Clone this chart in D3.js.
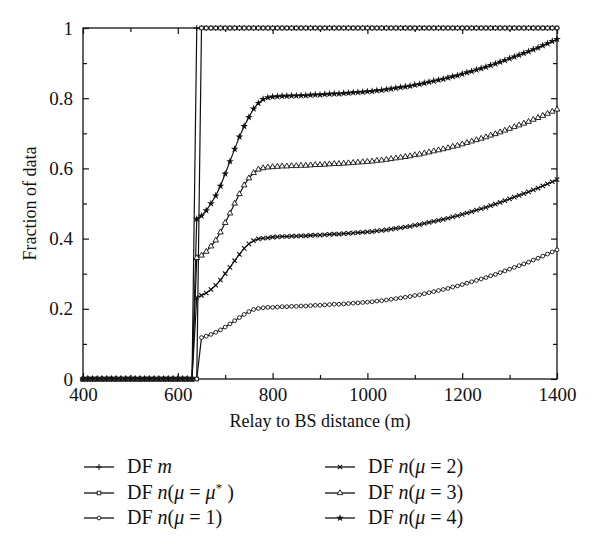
<!DOCTYPE html>
<html><head><meta charset="utf-8">
<script src="https://cdn.jsdelivr.net/npm/d3@7/dist/d3.min.js"></script>
</head><body style="margin:0"><svg id="c" width="600" height="549" font-family="Times New Roman"></svg>
<script>
const distances = [400,410,420,430,440,450,460,470,480,490,500,510,520,530,540,550,560,570,580,590,600,610,620,630,640,650,660,670,680,690,700,710,720,730,740,750,760,770,780,790,800,810,820,830,840,850,860,870,880,890,900,910,920,930,940,950,960,970,980,990,1000,1010,1020,1030,1040,1050,1060,1070,1080,1090,1100,1110,1120,1130,1140,1150,1160,1170,1180,1190,1200,1210,1220,1230,1240,1250,1260,1270,1280,1290,1300,1310,1320,1330,1340,1350,1360,1370,1380,1390,1400];
const zeros24 = [0,0,0,0,0,0,0,0,0,0,0,0,0,0,0,0,0,0,0,0,0,0,0,0];
const dfM = zeros24.concat([1,1,1,1,1,1,1,1,1,1,1,1,1,1,1,1,1,1,1,1,1,1,1,1,1,1,1,1,1,1,1,1,1,1,1,1,1,1,1,1,1,1,1,1,1,1,1,1,1,1,1,1,1,1,1,1,1,1,1,1,1,1,1,1,1,1,1,1,1,1,1,1,1,1,1,1,1]);
const dfMuStar = zeros24.concat([0,1,1,1,1,1,1,1,1,1,1,1,1,1,1,1,1,1,1,1,1,1,1,1,1,1,1,1,1,1,1,1,1,1,1,1,1,1,1,1,1,1,1,1,1,1,1,1,1,1,1,1,1,1,1,1,1,1,1,1,1,1,1,1,1,1,1,1,1,1,1,1,1,1,1,1,1]);
const dfMu1 = zeros24.concat([0,
 .118,.122,.127,.133,.140,.148,.157,.166,.175,.184,.192,.198,.201,.203,.204,
 .204,.205,.206,.206,.207,.207,.208,.208,.209,.210,
 .210,.211,.212,.213,.213,.214,.215,.216,.217,.218,
 .219,.220,.222,.223,.225,.227,.229,.231,.233,.235,
 .238,.240,.243,.246,.249,.252,.255,.258,.262,.265,
 .269,.273,.277,.281,.285,.289,.294,.298,.303,.308,
 .313,.318,.323,.328,.333,.339,.344,.350,.356,.362,
 .368]);
const dfMu2 = zeros24.concat([
 .232,.238,.245,.255,.267,.282,.300,.318,.337,.355,.372,.385,.394,.399,.401,.402,
 .404,.405,.406,.406,.407,.407,.408,.408,.409,.410,
 .410,.411,.412,.413,.413,.414,.415,.416,.417,.418,
 .419,.420,.422,.423,.425,.427,.429,.431,.433,.435,
 .438,.440,.443,.446,.449,.452,.455,.458,.462,.465,
 .469,.473,.477,.481,.485,.489,.494,.498,.503,.508,
 .513,.518,.523,.528,.533,.539,.544,.550,.556,.562,
 .568]);
const dfMu3 = zeros24.concat([
 .345,.352,.363,.378,.395,.418,.445,.472,.500,.527,.552,.572,.587,.597,.601,.603,
 .604,.605,.606,.606,.607,.607,.608,.608,.609,.610,
 .610,.611,.612,.613,.613,.614,.615,.616,.617,.618,
 .619,.620,.622,.623,.625,.627,.629,.631,.633,.635,
 .638,.640,.643,.646,.649,.652,.655,.658,.662,.665,
 .669,.673,.677,.681,.685,.689,.694,.698,.703,.708,
 .713,.718,.723,.728,.733,.739,.744,.750,.756,.762,
 .768]);
const dfMu4 = zeros24.concat([
 .456,.465,.480,.500,.522,.550,.585,.620,.655,.690,.720,.746,.770,.786,.797,.802,
 .804,.805,.806,.806,.807,.807,.808,.808,.809,.810,
 .810,.811,.812,.813,.813,.814,.815,.816,.817,.818,
 .819,.820,.822,.823,.825,.827,.829,.831,.833,.835,
 .838,.840,.843,.846,.849,.852,.855,.858,.862,.865,
 .869,.873,.877,.881,.885,.889,.894,.898,.903,.908,
 .913,.918,.923,.928,.933,.939,.944,.950,.956,.962,
 .968]);
const xTicks = [400,600,800,1000,1200,1400];
const yTicks = [0,0.2,0.4,0.6,0.8,1];
const xMinor = [500,700,900,1100,1300];
const yMinor = [0.1,0.3,0.5,0.7,0.9];
const series = [
  {key:"m", values:dfM, marker:"plus"},
  {key:"star", values:dfMuStar, marker:"square"},
  {key:"1", values:dfMu1, marker:"circle"},
  {key:"2", values:dfMu2, marker:"x"},
  {key:"3", values:dfMu3, marker:"triangle"},
  {key:"4", values:dfMu4, marker:"star"}
];

const FONT = "Times New Roman";
const svg = d3.select("#c");
const L=83, R=557, T=28, B=379;
const x = d3.scaleLinear().domain([400,1400]).range([L,R]);
const y = d3.scaleLinear().domain([0,1]).range([B,T]);
const ink = "#111";

function drawMarker(g, type, cx, cy){
  if(type==="plus"){
    g.append("path").attr("d",`M${cx-3},${cy}H${cx+3}M${cx},${cy-3}V${cy+3}`).attr("stroke",ink).attr("stroke-width",1).attr("fill","none");
  } else if(type==="x"){
    g.append("path").attr("d",`M${cx-2.2},${cy-2.2}L${cx+2.2},${cy+2.2}M${cx-2.2},${cy+2.2}L${cx+2.2},${cy-2.2}`).attr("stroke",ink).attr("stroke-width",1.1).attr("fill","none");
  } else if(type==="square"){
    g.append("rect").attr("x",cx-1.8).attr("y",cy-1.8).attr("width",3.6).attr("height",3.6).attr("stroke",ink).attr("stroke-width",0.9).attr("fill","#fff");
  } else if(type==="circle"){
    g.append("circle").attr("cx",cx).attr("cy",cy).attr("r",1.9).attr("stroke",ink).attr("stroke-width",0.9).attr("fill","#fff");
  } else if(type==="triangle"){
    g.append("path").attr("d",d3.symbol(d3.symbolTriangle,14)()).attr("transform",`translate(${cx},${cy})`).attr("stroke",ink).attr("stroke-width",0.9).attr("fill","#fff");
  } else if(type==="star"){
    g.append("path").attr("d",d3.symbol(d3.symbolStar,18)()).attr("transform",`translate(${cx},${cy})`).attr("fill",ink);
  }
}

// frame
svg.append("rect").attr("x",L).attr("y",T).attr("width",R-L).attr("height",B-T).attr("fill","none").attr("stroke",ink).attr("stroke-width",1.3);

// axes with inward ticks
function styleAxis(g){
  g.attr("font-family",null);
  g.select(".domain").remove();
  g.selectAll("line").attr("stroke",ink).attr("stroke-width",1.2);
  g.selectAll("text").attr("fill",ink).attr("font-family",FONT).attr("style",`font-family:'${FONT}'`).attr("font-size",19);
}
const gx = svg.append("g").attr("transform",`translate(0,${B})`).call(d3.axisBottom(x).tickValues(xTicks).tickSize(-6).tickPadding(9).tickFormat(d3.format("d")));
const gxm = svg.append("g").attr("transform",`translate(0,${B})`).call(d3.axisBottom(x).tickValues(xMinor).tickSize(-4).tickFormat(""));
const gxt = svg.append("g").attr("transform",`translate(0,${T})`).call(d3.axisTop(x).tickValues(xTicks).tickSize(-6).tickFormat(""));
const gxtm = svg.append("g").attr("transform",`translate(0,${T})`).call(d3.axisTop(x).tickValues(xMinor).tickSize(-4).tickFormat(""));
const gy = svg.append("g").attr("transform",`translate(${L},0)`).call(d3.axisLeft(y).tickValues(yTicks).tickSize(-6).tickPadding(10).tickFormat(d=>d===0||d===1?String(d):d3.format(".1f")(d)));
const gym = svg.append("g").attr("transform",`translate(${L},0)`).call(d3.axisLeft(y).tickValues(yMinor).tickSize(-4).tickFormat(""));
const gyr = svg.append("g").attr("transform",`translate(${R},0)`).call(d3.axisRight(y).tickValues(yTicks).tickSize(-6).tickFormat(""));
const gyrm = svg.append("g").attr("transform",`translate(${R},0)`).call(d3.axisRight(y).tickValues(yMinor).tickSize(-4).tickFormat(""));
[gx,gxm,gxt,gxtm,gy,gym,gyr,gyrm].forEach(styleAxis);

// lines and markers
const line = d3.line().x((d,i)=>x(distances[i])).y(d=>y(d));
series.forEach(s=>{
  svg.append("path").datum(s.values).attr("d",line).attr("fill","none").attr("stroke",ink).attr("stroke-width",1.2);
});
series.forEach(s=>{
  const g = svg.append("g");
  s.values.forEach((v,i)=>drawMarker(g, s.marker, x(distances[i]), y(v)));
});

// axis titles
svg.append("text").attr("x",(L+R)/2).attr("y",427).attr("text-anchor","middle").attr("font-family",FONT).attr("style",`font-family:'${FONT}'`).attr("font-size",18).attr("fill",ink).text("Relay to BS distance (m)");
svg.append("text").attr("transform",`translate(36,${(T+B)/2}) rotate(-90)`).attr("text-anchor","middle").attr("font-family",FONT).attr("style",`font-family:'${FONT}'`).attr("font-size",18).attr("fill",ink).text("Fraction of data");

// legend
const legendItems = [
  {marker:"plus", col:0, row:0, parts:[["DF ",""],["m","i"]]},
  {marker:"square", col:0, row:1, parts:[["DF ",""],["n","i"],["(",""],["μ","i"],[" = ",""],["μ","i"],["*","s"],[" )","r"]]},
  {marker:"circle", col:0, row:2, parts:[["DF ",""],["n","i"],["(",""],["μ","i"],[" = 1)",""]]},
  {marker:"x", col:1, row:0, parts:[["DF ",""],["n","i"],["(",""],["μ","i"],[" = 2)",""]]},
  {marker:"triangle", col:1, row:1, parts:[["DF ",""],["n","i"],["(",""],["μ","i"],[" = 3)",""]]},
  {marker:"star", col:1, row:2, parts:[["DF ",""],["n","i"],["(",""],["μ","i"],[" = 4)",""]]}
];
const colX = [84, 325], rowY = [467, 493, 518];
legendItems.forEach(it=>{
  const lx = colX[it.col], ly = rowY[it.row];
  const g = svg.append("g");
  g.append("line").attr("x1",lx).attr("x2",lx+30).attr("y1",ly).attr("y2",ly).attr("stroke",ink).attr("stroke-width",1.3);
  drawMarker(g, it.marker, lx+15, ly);
  const t = g.append("text").attr("x",lx+43).attr("y",ly+6).attr("font-family",FONT).attr("style",`font-family:'${FONT}'`).attr("font-size",20).attr("fill",ink);
  it.parts.forEach(p=>{
    const ts = t.append("tspan").text(p[0]);
    if(p[1]==="i") ts.attr("font-style","italic");
    if(p[1]==="s") ts.attr("dy",-7).attr("font-size",13);
    if(p[1]==="r") ts.attr("dy",7);
  });
});
</script></body></html>
